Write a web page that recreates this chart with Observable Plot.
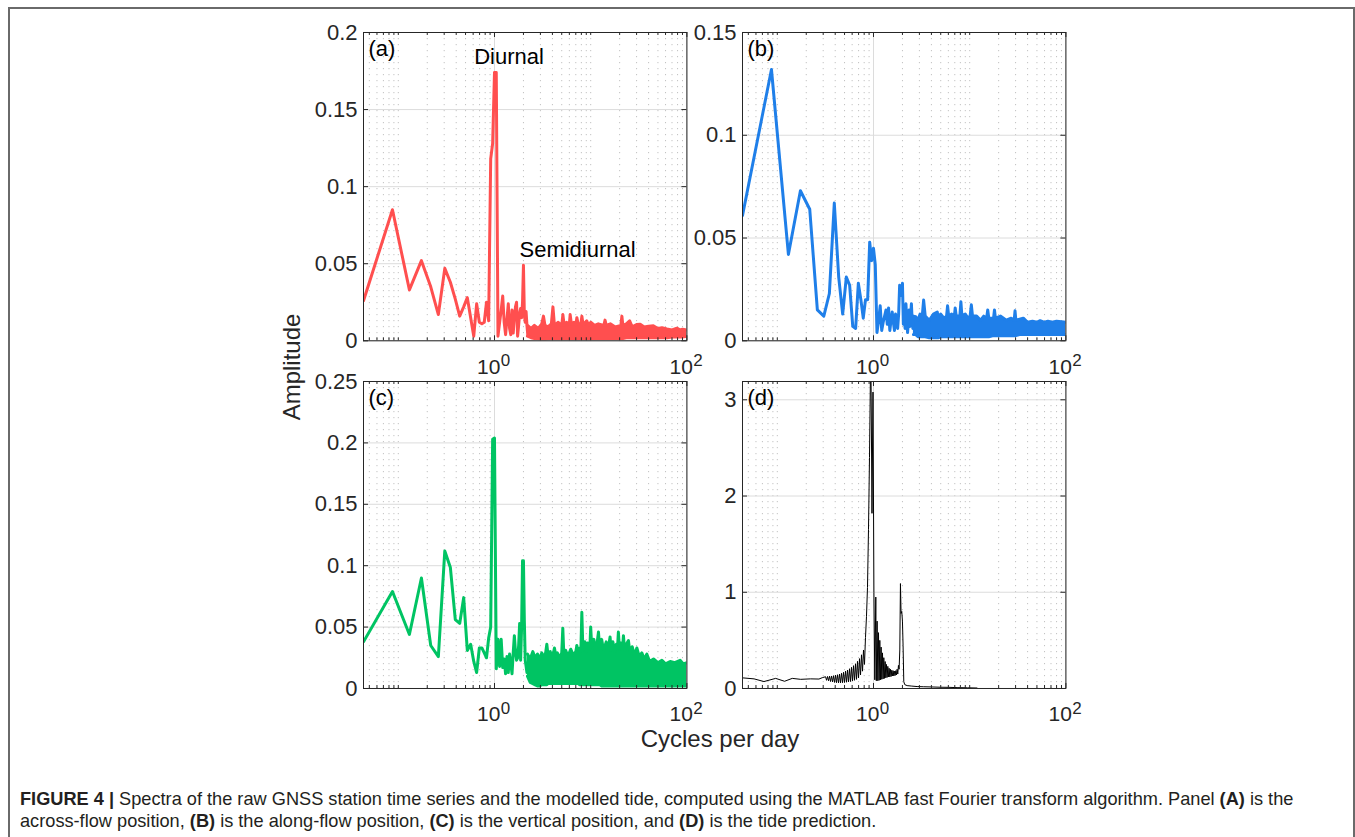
<!DOCTYPE html>
<html>
<head>
<meta charset="utf-8">
<script src="https://cdn.jsdelivr.net/npm/d3@7"></script>
<script src="https://cdn.jsdelivr.net/npm/@observablehq/plot@0.6"></script>
<style>
  html, body { margin: 0; padding: 0; background: #fff; }
  body { position: relative; width: 1355px; height: 837px; overflow: hidden;
         font-family: "Liberation Sans", Arial, Helvetica, sans-serif; color: #262626; }
  #figframe { position: absolute; left: 8px; top: 7px; width: 1347px; height: 900px;
              border: 2px solid #6a6a6a; border-bottom: none; box-sizing: border-box; }
  .panel { position: absolute; }
  #ylabel { position: absolute; left: 292px; top: 367px; font-size: 24px; line-height: 24px;
            white-space: nowrap; transform: translate(-50%, -50%) rotate(-90deg); }
  #xlabel { position: absolute; left: 720px; top: 726.7px; font-size: 24px; line-height: 24px;
            white-space: nowrap; transform: translateX(-50%); }
  #caption { position: absolute; left: 20px; top: 788px; font-size: 18.2px; line-height: 22px;
             color: #231f20; white-space: nowrap; }
</style>
</head>
<body>
<div id="figframe"></div>
<div id="pa" class="panel"></div>
<div id="pb" class="panel"></div>
<div id="pc" class="panel"></div>
<div id="pd" class="panel"></div>
<div id="ylabel">Amplitude</div>
<div id="xlabel">Cycles per day</div>
<div id="caption"><b>FIGURE 4 |</b> Spectra of the raw GNSS station time series and the modelled tide, computed using the MATLAB fast Fourier transform algorithm. Panel <b>(A)</b> is the<br>across-flow position, <b>(B)</b> is the along-flow position, <b>(C)</b> is the vertical position, and <b>(D)</b> is the tide prediction.</div>
<script>
// ---------------- data ----------------
const recordDays = 23;                 // record length: FFT bin k sits at k/23 cycles per day
const xDomain = [1 / recordDays, 100];
const freqMinor = [0.05,0.06,0.07,0.08,0.09,0.1,0.2,0.3,0.4,0.5,0.6,0.7,0.8,0.9,
                   2,3,4,5,6,7,8,9,10,20,30,40,50,60,70,80,90];
const freqMajor = [1, 100];
const xLabelBase = "10";
const xLabelExp = ["0", "2"];

// (a) across-flow: amplitudes of bins k = 1..51
const ampA = [0.026,0.085,0.033,0.052,0.035,0.017,0.047,0.038,0.027,0.016,
              0.022,0.028,0.015,0.003,0.024,0.012,0.011,0.012,0.025,0.013,
              0.118,0.128,0.174,0.174,0.003,0.012,0.020,0.029,0.012,0.004,
              0.014,0.024,0.008,0.004,0.020,0.005,0.015,0.022,0.025,0.003,
              0.010,0.018,0.021,0.015,0.025,0.049,0.017,0.012,0.019,0.010,
              0.004];
// (a) dense high-frequency band: [frequency, lower envelope, upper envelope]
const bandA = [[2.2,0.003,0.010],[2.4,0.002,0.008],[2.6,0.0015,0.010],[2.85,0.0015,0.008],[3.1,0.001,0.011],[3.23,0.001,0.016],[3.35,0.001,0.010],
               [3.6,0.0015,0.009],[3.9,0.0015,0.011],[4.05,0.0015,0.022],[4.2,0.0015,0.010],[4.6,0.0015,0.012],[5.0,0.0015,0.010],[5.14,0.0015,0.017],
               [5.3,0.0015,0.010],[5.6,0.0015,0.012],[6.0,0.0015,0.011],[6.12,0.0015,0.017],[6.3,0.0015,0.011],[6.7,0.0015,0.012],[7.0,0.0015,0.010],
               [7.18,0.0015,0.015],[7.4,0.0015,0.011],[7.9,0.0015,0.011],[8.1,0.0015,0.016],[8.35,0.0015,0.010],[8.8,0.0015,0.012],
               [9.1,0.0015,0.013],[9.5,0.0015,0.010],[10,0.0015,0.012],[11,0.0015,0.010],[12,0.0015,0.011],[13.7,0.0015,0.010],[14.1,0.0015,0.0134],
               [14.5,0.0015,0.010],[16,0.0015,0.011],[18,0.0015,0.009],[20.6,0.0015,0.010],[21.1,0.0015,0.016],[21.6,0.0015,0.010],
               [23.5,0.002,0.011],[25.4,0.002,0.013],[27,0.002,0.009],[30,0.002,0.0105],[32.7,0.002,0.0108],[36,0.002,0.009],[40,0.002,0.0095],[44.8,0.002,0.0097],
               [50,0.002,0.008],[55,0.002,0.0085],[62,0.002,0.0076],[70,0.0025,0.007],[78.8,0.0025,0.0082],[85,0.0025,0.007],[90,0.0025,0.0075],
               [100,0.003,0.007]];

// (b) along-flow: bins k = 1..60
const ampB = [0.061,0.132,0.042,0.073,0.064,0.015,0.012,0.023,0.067,0.031,
              0.013,0.031,0.027,0.007,0.006,0.028,0.020,0.011,0.020,0.020,
              0.048,0.039,0.045,0.037,0.004,0.010,0.017,0.005,0.009,0.012,
              0.015,0.008,0.016,0.005,0.010,0.014,0.009,0.005,0.013,0.012,
              0.006,0.013,0.027,0.026,0.022,0.028,0.008,0.012,0.006,0.018,
              0.010,0.004,0.009,0.015,0.007,0.012,0.018,0.010,0.006,0.011];
const bandB = [[2.6,0.003,0.012],[2.75,0.003,0.0117],[2.9,0.002,0.010],[3.05,0.002,0.013],[3.2,0.002,0.011],[3.32,0.002,0.0198],
               [3.45,0.002,0.012],[3.8,0.0015,0.010],[4.2,0.0015,0.013],[4.6,0.0015,0.014],[4.75,0.0015,0.011],[5.0,0.002,0.013],
               [5.4,0.002,0.011],[5.75,0.002,0.012],[5.89,0.002,0.017],[6.05,0.002,0.012],[6.5,0.002,0.013],[6.9,0.002,0.011],[7.07,0.002,0.016],
               [7.25,0.002,0.012],[7.9,0.002,0.012],[8.1,0.002,0.019],[8.3,0.002,0.012],[9.0,0.002,0.013],[9.6,0.002,0.011],[10.1,0.002,0.012],
               [10.4,0.002,0.0175],[10.7,0.002,0.012],[11.8,0.002,0.012],[13,0.002,0.010],[14,0.002,0.012],[15.0,0.002,0.011],[15.4,0.002,0.015],
               [15.8,0.002,0.011],[17.7,0.0025,0.011],[18.1,0.0025,0.015],[18.5,0.0025,0.011],[21,0.0025,0.012],[24,0.0025,0.010],
               [27,0.0025,0.011],[29.0,0.0025,0.010],[29.6,0.0025,0.0146],[30.2,0.0025,0.010],[33,0.003,0.0105],[36.1,0.003,0.011],[40,0.003,0.009],
               [45,0.003,0.0095],[50,0.003,0.009],[54,0.003,0.0098],[60,0.003,0.009],[65,0.003,0.0095],[72,0.003,0.009],[80,0.003,0.0095],[90,0.003,0.0093],
               [100,0.003,0.009]];

// (c) vertical: bins k = 1..51
const ampC = [0.038,0.079,0.044,0.090,0.035,0.026,0.112,0.0985,0.056,0.053,
              0.074,0.031,0.036,0.022,0.013,0.033,0.033,0.029,0.025,0.041,
              0.050,0.203,0.204,0.016,0.040,0.018,0.040,0.017,0.024,0.012,
              0.026,0.013,0.028,0.020,0.012,0.029,0.043,0.030,0.023,0.025,
              0.035,0.053,0.023,0.050,0.104,0.104,0.055,0.023,0.018,0.013,
              0.020];
const bandC = [[2.2,0.010,0.028],[2.35,0.005,0.024],[2.5,0.004,0.030],[2.65,0.003,0.025],[2.8,0.002,0.028],[2.95,0.002,0.024],
               [3.1,0.003,0.029],[3.25,0.003,0.025],[3.4,0.003,0.029],[3.5,0.003,0.036],[3.6,0.004,0.027],[3.8,0.004,0.030],
               [4.0,0.004,0.025],[4.2,0.004,0.033],[4.35,0.004,0.026],[4.5,0.004,0.029],[4.75,0.004,0.025],[5.0,0.004,0.029],
               [5.13,0.004,0.049],[5.26,0.004,0.027],[5.5,0.004,0.031],[5.8,0.004,0.026],[6.2,0.004,0.032],[6.6,0.004,0.027],
               [7.0,0.004,0.030],[7.18,0.004,0.035],[7.4,0.004,0.028],[7.7,0.003,0.033],[7.9,0.003,0.030],[8.09,0.003,0.062],
               [8.3,0.003,0.031],[8.7,0.003,0.038],[9.0,0.003,0.030],[9.3,0.003,0.037],[9.8,0.003,0.032],[10.0,0.003,0.050],
               [10.25,0.003,0.034],[10.8,0.003,0.040],[11.2,0.003,0.032],[11.7,0.003,0.038],[12.05,0.003,0.046],[12.4,0.003,0.032],
               [13.0,0.002,0.040],[13.6,0.002,0.031],[14.5,0.002,0.038],[15.0,0.002,0.031],[15.5,0.002,0.036],[15.9,0.002,0.042],
               [16.3,0.002,0.031],[17.0,0.002,0.038],[17.8,0.002,0.030],[18.5,0.002,0.036],[19.0,0.002,0.033],[19.4,0.002,0.046],
               [19.9,0.002,0.032],[20.6,0.002,0.037],[21.4,0.002,0.032],[21.9,0.002,0.043],[22.5,0.002,0.031],[23.5,0.002,0.036],
               [24.7,0.002,0.039],[25.6,0.002,0.029],[27,0.002,0.034],[28.5,0.002,0.027],[30.2,0.002,0.033],[32,0.002,0.026],
               [34,0.002,0.029],[36,0.002,0.024],[38.3,0.002,0.028],[41,0.002,0.022],[45,0.002,0.024],[50,0.002,0.021],
               [55,0.002,0.023],[60,0.002,0.020],[67,0.002,0.022],[75,0.002,0.021],[85,0.002,0.023],[92,0.002,0.020],[100,0.002,0.021]];

// (d) tide prediction: [frequency, amplitude]
const tideD = [
 [0.0440,0.110],[0.0573,0.100],[0.0727,0.072],[0.0962,0.105],[0.119,0.075],[0.143,0.105],[0.175,0.095],[0.222,0.100],[0.271,0.098],[0.293,0.112],
 [0.3175,0.122],[0.3252,0.085],[0.3330,0.125],[0.3411,0.080],[0.3493,0.128],[0.3578,0.072],[0.3664,0.130],[0.3753,0.068],[0.3844,0.133],[0.3937,0.063],
 [0.4032,0.138],[0.4129,0.060],[0.4229,0.143],[0.4331,0.058],[0.4436,0.150],[0.4543,0.058],[0.4653,0.158],[0.4766,0.060],[0.4881,0.168],[0.4999,0.062],
 [0.5120,0.180],[0.5244,0.065],[0.5371,0.192],[0.5501,0.068],[0.5634,0.205],[0.5770,0.072],[0.5910,0.220],[0.6053,0.078],[0.6199,0.237],[0.6349,0.085],
 [0.6503,0.257],[0.6660,0.095],[0.6821,0.282],[0.6986,0.110],[0.7155,0.310],[0.7328,0.140],[0.7505,0.350],[0.7687,0.180],[0.7873,0.400],[0.8063,0.250],
 [0.8258,0.530],[0.8458,0.750],[0.8662,1.050],[0.8872,1.650],[0.9087,2.400],[0.9306,3.300],[0.9420,3.300],[0.9647,1.820],[0.9880,3.080],[1.010,1.000],
 [1.032,0.090],[1.057,0.950],[1.070,0.080],[1.090,0.700],[1.109,0.080],[1.127,0.580],[1.145,0.085],[1.163,0.500],[1.182,0.090],[1.200,0.430],
 [1.220,0.095],[1.240,0.370],[1.260,0.100],[1.280,0.320],[1.300,0.105],[1.322,0.280],[1.343,0.110],[1.364,0.250],[1.386,0.115],[1.409,0.230],
 [1.431,0.120],[1.454,0.210],[1.477,0.120],[1.501,0.200],[1.525,0.125],[1.550,0.190],[1.574,0.130],[1.600,0.185],[1.626,0.130],[1.651,0.180],
 [1.678,0.135],[1.705,0.185],[1.732,0.140],[1.760,0.200],[1.788,0.150],[1.817,0.240],[1.846,0.200],[1.877,0.400],[1.906,1.090],[1.935,0.780],
 [1.968,0.800],[2.000,0.700],[2.030,0.450],[2.065,0.070],[2.115,0.040],[2.236,0.030],[2.50,0.025],[2.84,0.020],[3.33,0.018],[4.0,0.016],
 [4.96,0.013],[6.0,0.012],[7.39,0.009],[9.5,0.007],[11.9,0.005]
];

const yTicksA = [0, 0.05, 0.1, 0.15, 0.2];       const yLabelsA = ["0","0.05","0.1","0.15","0.2"];
const yTicksB = [0, 0.05, 0.1, 0.15];            const yLabelsB = ["0","0.05","0.1","0.15"];
const yTicksC = [0, 0.05, 0.1, 0.15, 0.2, 0.25]; const yLabelsC = ["0","0.05","0.1","0.15","0.2","0.25"];
const yTicksD = [0, 1, 2, 3];                    const yLabelsD = ["0","1","2","3"];

const annoText = ["Diurnal", "Semidiurnal"];
const annoFreq = [0.615, 1.82];
const annoAmp = [0.184, 0.0587];

// ---------------- drawing ----------------
const ML = 85, MR = 30, MT = 25, MB = 45, FW = 323.4;
const ink = "#262626";
const fontFam = '"Liberation Sans", Arial, Helvetica, sans-serif';

const binTable = amps => amps.map((a, i) => ({f: (i + 1) / recordDays, a}));
const bandTable = rows => rows.map(([f, lo, hi]) => ({f, lo, hi}));
const pairTable = rows => rows.map(([f, a]) => ({f, a}));

function panel(cfg) {
  const fh = cfg.fh;
  const marks = [
    Plot.ruleX(freqMinor, {x: d => d, stroke: "#c2c2c2", strokeDasharray: "1.2,4.8"}),
    Plot.ruleX(freqMajor, {x: d => d, stroke: "#dcdcdc"}),
    Plot.ruleY(cfg.yTicks, {y: d => d, stroke: "#dcdcdc"})
  ];
  if (cfg.band) {
    marks.push(Plot.areaY(cfg.band, {x: "f", y1: "lo", y2: "hi", fill: cfg.color, clip: true}));
    marks.push(Plot.line(cfg.band, {x: "f", y: "hi", stroke: cfg.color, strokeWidth: cfg.sw, clip: true}));
    marks.push(Plot.line(cfg.band, {x: "f", y: "lo", stroke: cfg.color, strokeWidth: cfg.sw, clip: true}));
  }
  marks.push(Plot.line(cfg.line, {x: "f", y: "a", stroke: cfg.color, strokeWidth: cfg.sw, clip: true}));
  marks.push(
    Plot.tickX(freqMinor, {x: d => d, stroke: ink, insetTop: fh - 3}),
    Plot.tickX(freqMinor, {x: d => d, stroke: ink, insetBottom: fh - 3}),
    Plot.tickX(freqMajor, {x: d => d, stroke: ink, insetTop: fh - 5}),
    Plot.tickX(freqMajor, {x: d => d, stroke: ink, insetBottom: fh - 5}),
    Plot.tickY(cfg.yTicks, {y: d => d, stroke: ink, insetRight: FW - 5}),
    Plot.tickY(cfg.yTicks, {y: d => d, stroke: ink, insetLeft: FW - 5}),
    Plot.frame({stroke: ink}),
    Plot.text(cfg.yTicks, {y: d => d, text: (d, i) => cfg.yLabels[i], frameAnchor: "left",
      textAnchor: "end", dx: -6, lineAnchor: "middle", fontSize: 22, fill: ink}),
    Plot.text(freqMajor, {x: d => d, text: () => xLabelBase, frameAnchor: "bottom",
      dx: -5.7, dy: 18, lineAnchor: "top", fontSize: 21, fill: ink}),
    Plot.text(freqMajor, {x: d => d, text: (d, i) => xLabelExp[i], frameAnchor: "bottom",
      dx: 11, dy: 13, lineAnchor: "top", fontSize: 17, fill: ink}),
    Plot.text([cfg.letter], {text: d => d, frameAnchor: "top-left", dx: 5, dy: 8,
      textAnchor: "start", lineAnchor: "top", fontSize: 22, fill: "#000"})
  );
  if (cfg.anno) {
    marks.push(Plot.text(cfg.anno.text, {x: (d, i) => cfg.anno.f[i], y: (d, i) => cfg.anno.a[i],
      text: d => d, textAnchor: "start", lineAnchor: "middle", fontSize: 22, fill: "#000"}));
  }
  const chart = Plot.plot({
    width: FW + ML + MR, height: fh + MT + MB,
    marginLeft: ML, marginRight: MR, marginTop: MT, marginBottom: MB,
    x: {type: "log", domain: xDomain, axis: null},
    y: {domain: [0, cfg.yMax], axis: null},
    style: {background: "transparent", overflow: "visible", fontFamily: fontFam},
    marks
  });
  const host = document.getElementById(cfg.id);
  host.style.left = (cfg.frameLeft - ML) + "px";
  host.style.top = (cfg.frameTop - MT) + "px";
  host.appendChild(chart);
}

panel({id: "pa", frameLeft: 363.3, frameTop: 31.7, fh: 308.3, yMax: 0.2, yTicks: yTicksA, yLabels: yLabelsA,
       color: "#ff4f4f", sw: 3, line: binTable(ampA), band: bandTable(bandA), letter: "(a)",
       anno: {text: annoText, f: annoFreq, a: annoAmp}});
panel({id: "pb", frameLeft: 742.3, frameTop: 31.7, fh: 308.3, yMax: 0.15, yTicks: yTicksB, yLabels: yLabelsB,
       color: "#1f7fe9", sw: 3, line: binTable(ampB), band: bandTable(bandB), letter: "(b)"});
panel({id: "pc", frameLeft: 363.3, frameTop: 380.7, fh: 307, yMax: 0.25, yTicks: yTicksC, yLabels: yLabelsC,
       color: "#00c463", sw: 3, line: binTable(ampC), band: bandTable(bandC), letter: "(c)"});
panel({id: "pd", frameLeft: 742.3, frameTop: 380.7, fh: 307, yMax: 3.19, yTicks: yTicksD, yLabels: yLabelsD,
       color: "#000000", sw: 1, line: pairTable(tideD), band: null, letter: "(d)"});
</script>
</body>
</html>
